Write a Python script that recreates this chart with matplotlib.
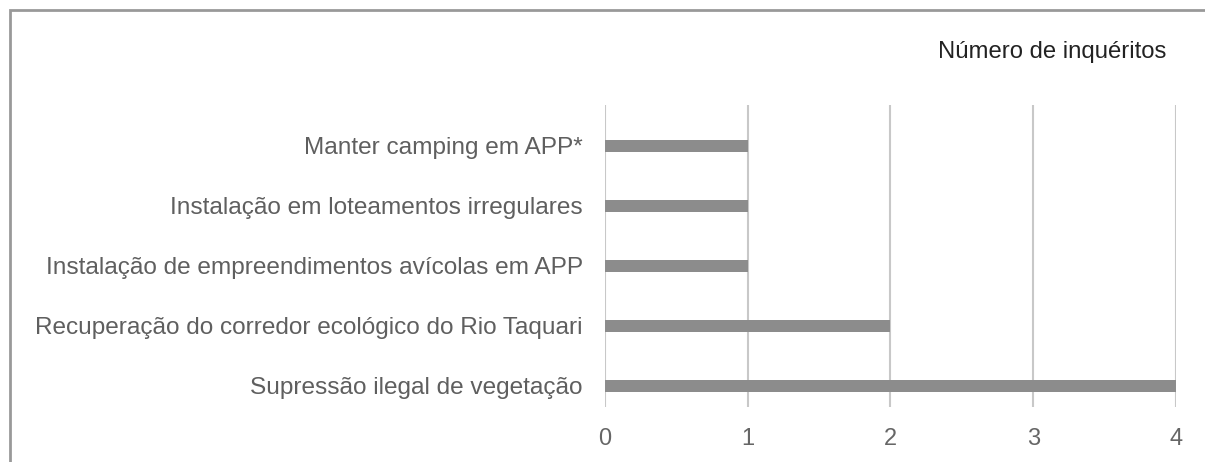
import matplotlib.pyplot as plt
from matplotlib.patches import Rectangle

plt.rcParams['font.family'] = ['Liberation Sans', 'DejaVu Sans']

# Data
categories = ["Manter camping em APP*",
              "Instalação em loteamentos irregulares",
              "Instalação de empreendimentos avícolas em APP",
              "Recuperação do corredor ecológico do Rio Taquari",
              "Supressão ilegal de vegetação"]
values = [1, 1, 1, 2, 4]
xticks = [0, 1, 2, 3, 4]

fig = plt.figure(figsize=(12.05, 4.62), dpi=100)
ax = fig.add_axes([0.502, 0.119, 0.474, 0.654])

pos = list(range(len(categories)))[::-1]
ax.barh(pos, values, height=0.2, color="#8c8c8c", zorder=3)

ax.set_xlim(0, 4)
ax.set_ylim(-0.35, 4.68)
ax.set_xticks(xticks)
ax.set_xticklabels([str(t) for t in xticks], color="#666666", fontsize=17)
ax.set_yticks(pos)
ax.set_yticklabels(categories, color="#5f5f5f", fontsize=17.6)
ax.tick_params(axis="x", length=0, pad=15)
ax.tick_params(axis="y", length=0, pad=16)
ax.grid(axis="x", color="#c8c8c8", linewidth=1.5, zorder=0)
for s in ax.spines.values():
    s.set_visible(False)

fig.text(1166 / 1205, 1 - 52 / 462, "Número de inquéritos", ha="right", va="center",
         fontsize=17.2, color="#222222")

# outer border
fig.patches.append(Rectangle((10 / 1205, -0.1), 1.2, 1 - 10 / 462 + 0.1,
                             transform=fig.transFigure, fill=False,
                             edgecolor="#999999", linewidth=2))

fig.savefig("out.png", dpi=100)
